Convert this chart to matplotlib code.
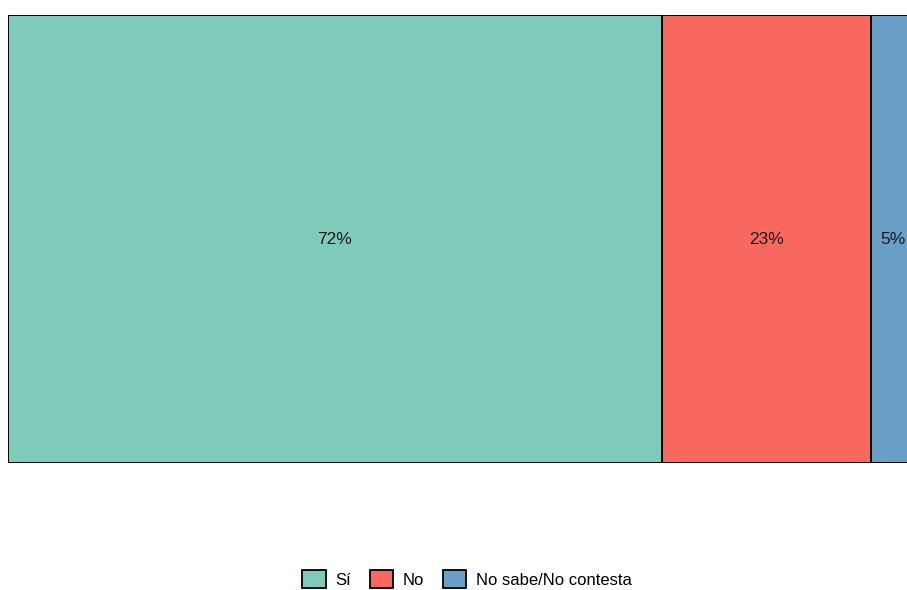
import matplotlib.pyplot as plt
from matplotlib.patches import Patch

plt.rcParams['font.family'] = ['Liberation Sans', 'DejaVu Sans']

categories = ['Sí', 'No', 'No sabe/No contesta']
values = [72, 23, 5]
colors = ['#7fcbba', '#f8685e', '#6a9fc8']

fig = plt.figure(figsize=(9.07, 5.90), dpi=100)
# bar runs off the right edge like in the original
ax = fig.add_axes([8 / 907, 127 / 590, 908 / 907, 448 / 590])

left = 0
for cat, v, c in zip(categories, values, colors):
    ax.barh(0, v, left=left, height=1, color=c, edgecolor='black', linewidth=1.4)
    ax.text(left + v / 2, 0, f'{v}%', ha='center', va='center', fontsize=12.5, color='#1a1a1a')
    left += v

ax.set_xlim(0, 100)
ax.set_ylim(-0.5, 0.5)
ax.axis('off')

handles = [Patch(facecolor=c, edgecolor='black', linewidth=1.3) for c in colors]
fig.legend(handles, categories, loc='center', bbox_to_anchor=(467 / 907, 1 - 579 / 590),
           ncol=3, frameon=False, fontsize=12, handlelength=1.4, handleheight=1.2,
           handletextpad=0.6, columnspacing=1.1)

fig.savefig('out.png', dpi=100)
